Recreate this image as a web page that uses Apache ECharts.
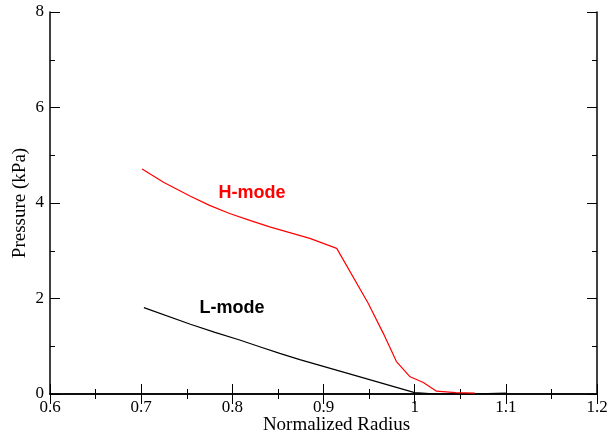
<!DOCTYPE html>
<html>
<head>
<meta charset="utf-8">
<script src="https://cdn.jsdelivr.net/npm/echarts@6/dist/echarts.min.js"></script>
<style>
  html, body { margin: 0; padding: 0; background: #fff; }
  #chart { width: 609px; height: 439px; }
</style>
</head>
<body>
<div id="chart"></div>
<script>
// Pressure profiles against normalized radius (kPa)
const hModeRadius = [0.701, 0.725, 0.754, 0.775, 0.797, 0.820, 0.841, 0.863, 0.885, 0.9145, 0.949, 0.9656, 0.980, 0.995, 1.0095, 1.024, 1.045, 1.066];
const hModePressure = [4.71, 4.43, 4.14, 3.95, 3.78, 3.63, 3.50, 3.38, 3.26, 3.05, 1.90, 1.27, 0.68, 0.36, 0.24, 0.06, 0.03, 0.02];

const lModeRadius = [0.703, 0.754, 0.781, 0.808, 0.830, 0.852, 0.874, 0.896, 0.918, 0.940, 0.960, 0.980, 1.000, 1.020, 1.050, 1.080, 1.100];
const lModePressure = [1.81, 1.46, 1.29, 1.13, 0.99, 0.85, 0.72, 0.60, 0.48, 0.36, 0.25, 0.14, 0.03, 0.005, 0.0, 0.01, 0.02];

const curveLabels = [
  { text: 'H-mode', x: 0.8216, y: 4.20, color: '#ff0000' },
  { text: 'L-mode', x: 0.7996, y: 1.80, color: '#000000' }
];

const serif = 'Liberation Serif';
const pairs = (xs, ys) => xs.map((x, i) => [x, ys[i]]);

const tickStyle = { show: true, inside: true, length: 10, lineStyle: { color: '#000', width: 1 } };
const minorStyle = { show: true, splitNumber: 2, length: 5, lineStyle: { color: '#000', width: 1 } };
const lineAxis = { show: true, lineStyle: { color: '#000', width: 1.5 } };

const chart = echarts.init(document.getElementById('chart'));
chart.setOption({
  animation: false,
  backgroundColor: '#fff',
  grid: { left: 50, right: 12, top: 12, bottom: 45, containLabel: false, outerBoundsMode: 'none' },
  xAxis: [
    {
      type: 'value', min: 0.6, max: 1.2, interval: 0.1, position: 'bottom',
      name: 'Normalized Radius', nameLocation: 'middle', nameGap: 22, nameMoveOverlap: false,
      nameTextStyle: { fontFamily: serif, fontSize: 19, color: '#000', padding: [0, 0, 0, 26] },
      axisLine: lineAxis, axisTick: tickStyle, minorTick: minorStyle,
      splitLine: { show: false },
      axisLabel: { fontFamily: serif, fontSize: 17, color: '#000', margin: 5,
        formatter: v => String(Math.round(v * 10) / 10) }
    },
    {
      type: 'value', min: 0.6, max: 1.2, interval: 0.1, position: 'top',
      axisLine: lineAxis, axisTick: tickStyle, minorTick: minorStyle,
      splitLine: { show: false }, axisLabel: { show: false }
    }
  ],
  yAxis: [
    {
      type: 'value', min: 0, max: 8, interval: 2, position: 'left',
      name: 'Pressure (kPa)', nameLocation: 'middle', nameGap: 20, nameMoveOverlap: false,
      nameTextStyle: { fontFamily: serif, fontSize: 19, color: '#000' },
      axisLine: lineAxis, axisTick: tickStyle, minorTick: minorStyle,
      splitLine: { show: false },
      axisLabel: { fontFamily: serif, fontSize: 17, color: '#000', margin: 6 }
    },
    {
      type: 'value', min: 0, max: 8, interval: 2, position: 'right',
      axisLine: lineAxis, axisTick: tickStyle, minorTick: minorStyle,
      splitLine: { show: false }, axisLabel: { show: false }
    }
  ],
  series: [
    {
      name: 'H-mode', type: 'line', data: pairs(hModeRadius, hModePressure),
      showSymbol: false, lineStyle: { color: '#ff0000', width: 1.2 }, z: 3
    },
    {
      name: 'L-mode', type: 'line', data: pairs(lModeRadius, lModePressure),
      showSymbol: false, lineStyle: { color: '#000000', width: 1.2 }, z: 2
    }
  ]
});

// Curve annotations placed in data coordinates
chart.setOption({
  graphic: curveLabels.map(l => {
    const p = chart.convertToPixel({ xAxisIndex: 0, yAxisIndex: 0 }, [l.x, l.y]);
    return {
      type: 'text', x: p[0], y: p[1],
      style: { text: l.text, fill: l.color, font: 'bold 18px "Liberation Sans"',
        align: 'center', verticalAlign: 'middle' }
    };
  })
});
</script>
</body>
</html>
